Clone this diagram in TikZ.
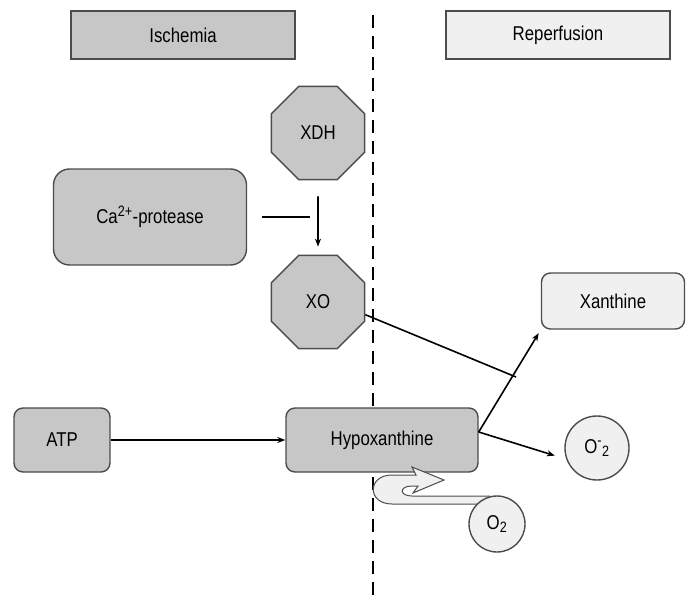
\documentclass[tikz,border=0pt]{standalone}
\usepackage{fontspec}
\setmainfont{Liberation Sans}[FakeStretch=0.84]
\usetikzlibrary{positioning, shapes.geometric, arrows.meta}

\newcommand{\upidx}[1]{\textsuperscript{\fontsize{15}{15}\selectfont #1}}
\newcommand{\downidx}[1]{\textsubscript{\fontsize{15}{15}\selectfont #1}}

\begin{document}
\begin{tikzpicture}[
    x=1pt, y=-1pt,
    >={Stealth[length=8pt, width=6pt]},
    every node/.style={font=\fontsize{20}{22}\selectfont},
    phasedark/.style={rectangle, draw=black!70, fill=black!22, line width=1.4pt, minimum width=224pt, minimum height=48pt},
    phaselight/.style={rectangle, draw=black!70, fill=black!6, line width=1.4pt, minimum width=224pt, minimum height=48pt},
    enzyme/.style={regular polygon, regular polygon sides=8, draw=black!70, fill=black!22, line width=1.4pt, minimum size=101pt, inner sep=0pt},
    darkbox/.style={rectangle, rounded corners=9pt, draw=black!70, fill=black!22, line width=1.4pt},
    lightbox/.style={rectangle, rounded corners=9pt, draw=black!70, fill=black!6, line width=1.4pt},
    species/.style={circle, draw=black!70, fill=black!6, line width=1.4pt, inner sep=0pt},
    link/.style={line width=1.6pt},
    divider/.style={line width=2.8pt, dash pattern=on 13pt off 8pt}
]
    \useasboundingbox (0,0) rectangle (688,602);

    % ischemia / reperfusion border
    \draw[divider] (373,15) -- (373,598);

    \node[phasedark]  at (183,35) (ischemia) {Ischemia};
    \node[phaselight] at (558,35) (reperfusion) {Reperfusion};

    \node[enzyme] at (318,133) (xdh) {XDH};
    \node[enzyme] at (318,302) (xo) {XO};

    \node[darkbox, minimum width=193pt, minimum height=96pt, rounded corners=16pt] at (150,217) (protease) {Ca\upidx{2+}-protease};
    \node[darkbox, minimum width=96pt, minimum height=64pt] at (62,440) (atp) {ATP};
    \node[darkbox, minimum width=192pt, minimum height=64pt] at (382,440) (hypo) {Hypoxanthine};

    \node[lightbox, minimum width=143pt, minimum height=56pt] at (613,301) (xanthine) {Xanthine};
    \node[species, minimum size=64pt] at (597,448) (superoxide) {O\upidx{-}\downidx{2}};

    \coordinate (block) at (310,217);
    \coordinate (junction) at (516,377);
    \coordinate (tail) at (490,500);

    \draw[->, link] (atp) -- (hypo);
    \draw[->, link, shorten <=16pt, shorten >=8pt] (xdh) -- (xo);
    \draw[link, shorten <=15pt] (protease.east) -- (block);

    \draw[link] (xo.-15) -- (junction);
    \draw[->, link, shorten >=4pt] ([yshift=8pt]hypo.east) -- (xanthine.south west);
    \draw[->, link, shorten >=12pt] ([yshift=8pt]hypo.east) -- (superoxide.200);

    % hollow curled arrow from O2
    \draw[draw=black!70, fill=black!6, line width=1pt]
        ([yshift=4pt]tail) -- (412,496) .. controls (399,496) and (399,486) .. (412,486)
        -- (418,486) -- (413,493) -- (444,480) -- (412,467) -- (416,475)
        -- (392,475) .. controls (367,475) and (367,504) .. (392,504) -- ([yshift=-4pt]tail);

    \node[species, minimum size=56pt] at (497,524) (oxygen) {O\downidx{2}};
\end{tikzpicture}
\end{document}
